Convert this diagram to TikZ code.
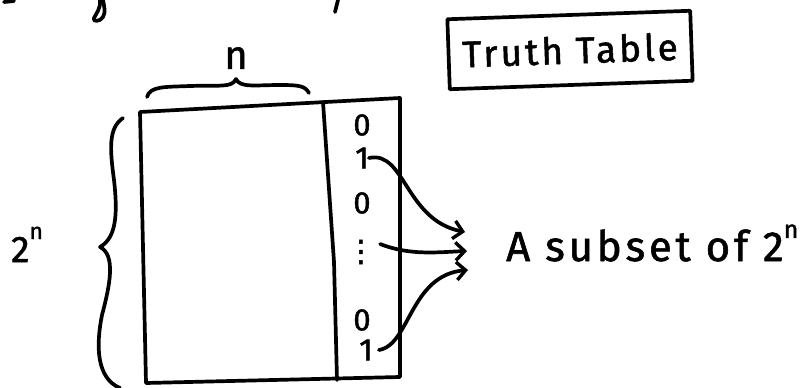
\documentclass[tikz,border=0pt]{standalone}
\usepackage{fontspec}
\setmainfont{Fira Sans}[UprightFeatures={FakeBold=1.4}]
\newfontfamily\dejavu{DejaVu Sans}[UprightFeatures={FakeBold=1.4}]
\usetikzlibrary{arrows.meta}
\begin{document}
\begin{tikzpicture}[x=1pt,y=-1pt,
  ink/.style={line width=3.7pt,line cap=round,line join=round},
  arr/.style={ink,-{Straight Barb[length=9pt,width=18pt,line width=3.4pt]}},
  digit/.style={font=\fontsize{31}{33}\selectfont,inner sep=0pt},
  lbl/.style={inner sep=0pt}]
\useasboundingbox (0,0) rectangle (811,388);
% fragments of the line above
\draw[ink] (100,0) .. controls (101,8) and (96,14) .. (94,18) .. controls (92,22) and (100,22) .. (103,17) .. controls (106,12) and (104,6) .. (103,0);
\draw[ink] (338,0) -- (335,12);
\draw[ink] (4,2) -- (14,1);
% truth table box
\node[ink,draw,rotate=2,minimum width=243pt,minimum height=70pt,font=\fontsize{37}{39}\selectfont] (tt) at (570,50) {\addfontfeature{LetterSpace=8}Truth Table};
% table
\draw[ink] (140,112) -- (400,98) -- (400,377) -- (146,383) -- cycle;
\draw[ink] (323,102) -- (334,262) -- (337,380);
\node[digit] (d1) at (362,125) {0};
\node[digit] (d2) at (362,158) {1};
\node[digit] (d3) at (362,203) {0};
\node[digit,font=\fontsize{30}{32}\selectfont\dejavu] (d4) at (361,252) {⋮};
\node[digit] (d5) at (362,320) {0};
\node[digit] (d6) at (366,350) {1};
% top brace
\draw[ink] (147,97) .. controls (150,86) and (165,87) .. (190,86) .. controls (220,85) and (232,88) .. (236,79)
  .. controls (240,88) and (255,85) .. (280,85) .. controls (300,85) and (305,86) .. (309,93);
\node[lbl,font=\fontsize{40}{42}\selectfont] (n) at (236,58) {n};
% left brace
\draw[ink] (123,118) .. controls (108,128) and (110,150) .. (114,180) .. controls (118,215) and (116,238) .. (100,247)
  .. controls (116,255) and (110,285) .. (102,315) .. controls (96,345) and (96,378) .. (120,388);
\node[lbl,anchor=base west,font=\fontsize{37}{39}\selectfont] (two) at (11,262) {2\raisebox{0.62em}{\fontsize{23}{25}\selectfont n}};
% result
\node[lbl,anchor=base west,font=\fontsize{42}{44}\selectfont] (res) at (506,261)
  {\addfontfeature{LetterSpace=9}A subset of 2\raisebox{0.55em}{\fontsize{25}{27}\selectfont n}};
\coordinate (t1) at (465,232);
\coordinate (t2) at (467,251);
\coordinate (t3) at (468,270);
\draw[arr] (d2.east) .. controls (405,150) and (405,220) .. (t1);
\draw[arr] ([xshift=4pt,yshift=8pt]d4.east) .. controls (410,256) and (440,252) .. (t2);
\draw[arr] ([xshift=6pt]d6.east) .. controls (410,345) and (410,275) .. (t3);
\end{tikzpicture}
\end{document}
